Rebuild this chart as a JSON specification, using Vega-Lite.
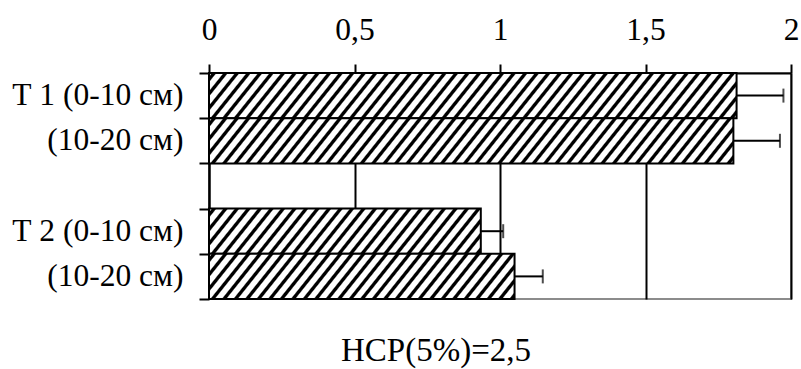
{
  "$schema": "https://vega.github.io/schema/vega-lite/v6.json",
  "width": 582,
  "height": 226,
  "autosize": {"type": "none"},
  "padding": {"left": 209, "top": 73, "right": 10, "bottom": 70},
  "background": "white",
  "config": {"font": "Liberation Serif", "view": {"stroke": "#8c8c8c", "strokeWidth": 2}},
  "title": {"text": "НСР(5%)=2,5", "orient": "bottom", "anchor": "middle", "fontSize": 33, "fontWeight": "normal", "color": "black", "offset": 35, "dx": -64},
  "data": {"values": [
    {"cat": "a", "mean": 1.813, "hi": 1.974},
    {"cat": "b", "mean": 1.802, "hi": 1.962},
    {"cat": "d", "mean": 0.934, "hi": 1.011},
    {"cat": "e", "mean": 1.05, "hi": 1.147}
  ]},
  "encoding": {
    "y": {"field": "cat", "type": "nominal",
      "scale": {"domain": ["a", "b", "c", "d", "e"], "paddingInner": 0, "paddingOuter": 0},
      "axis": {"title": null, "tickBand": "extent", "domainColor": "black", "domainWidth": 2, "tickColor": "black", "tickWidth": 2, "tickSize": 10, "labelFontSize": 31.5, "labelColor": "black", "labelPadding": 16, "labelLimit": 400,
        "labelExpr": "datum.value == 'a' ? 'Т 1 (0-10 см)' : datum.value == 'd' ? 'Т 2 (0-10 см)' : (datum.value == 'b' || datum.value == 'e') ? '(10-20 см)' : ''"}
    }
  },
  "layer": [
    {
      "mark": {"type": "rule", "color": "black", "strokeWidth": 2},
      "encoding": {
        "x": {"field": "mean", "type": "quantitative", "scale": {"domain": [0, 2]},
          "axis": {"orient": "top", "title": null, "values": [0, 0.5, 1, 1.5, 2], "labelExpr": "replace(toString(datum.value), '.', ',')", "labelFlush": false, "labelOverlap": false,
            "domainColor": "black", "domainWidth": 2, "tickColor": "black", "tickWidth": 2, "tickSize": 9,
            "labelFontSize": 31.5, "labelColor": "black", "labelPadding": 25, "labelBaseline": "alphabetic",
            "grid": true, "gridWidth": 2, "gridOpacity": 1, "gridColor": "black"}},
        "x2": {"field": "hi"}
      }
    },
    {
      "mark": {"type": "tick", "color": "black", "thickness": 2, "size": 14},
      "encoding": {"x": {"field": "hi", "type": "quantitative"}}
    },
    {
      "transform": [{"filter": "datum.cat == 'a' || datum.cat == 'b'"}],
      "mark": {"type": "bar", "stroke": "black", "strokeWidth": 2,
        "fill": {"gradient": "linear", "x1": 0, "y1": 0, "x2": 1.088, "y2": 0.0748, "stops": [
{"offset":0.004,"color":"#fff"},{"offset":0.0065,"color":"#000"},{"offset":0.0115,"color":"#000"},{"offset":0.014,"color":"#fff"},
{"offset":0.024,"color":"#fff"},{"offset":0.0265,"color":"#000"},{"offset":0.0315,"color":"#000"},{"offset":0.034,"color":"#fff"},
{"offset":0.044,"color":"#fff"},{"offset":0.0465,"color":"#000"},{"offset":0.0515,"color":"#000"},{"offset":0.054,"color":"#fff"},
{"offset":0.064,"color":"#fff"},{"offset":0.0665,"color":"#000"},{"offset":0.0715,"color":"#000"},{"offset":0.074,"color":"#fff"},
{"offset":0.084,"color":"#fff"},{"offset":0.0865,"color":"#000"},{"offset":0.0915,"color":"#000"},{"offset":0.094,"color":"#fff"},
{"offset":0.104,"color":"#fff"},{"offset":0.1065,"color":"#000"},{"offset":0.1115,"color":"#000"},{"offset":0.114,"color":"#fff"},
{"offset":0.124,"color":"#fff"},{"offset":0.1265,"color":"#000"},{"offset":0.1315,"color":"#000"},{"offset":0.134,"color":"#fff"},
{"offset":0.144,"color":"#fff"},{"offset":0.1465,"color":"#000"},{"offset":0.1515,"color":"#000"},{"offset":0.154,"color":"#fff"},
{"offset":0.164,"color":"#fff"},{"offset":0.1665,"color":"#000"},{"offset":0.1715,"color":"#000"},{"offset":0.174,"color":"#fff"},
{"offset":0.184,"color":"#fff"},{"offset":0.1865,"color":"#000"},{"offset":0.1915,"color":"#000"},{"offset":0.194,"color":"#fff"},
{"offset":0.204,"color":"#fff"},{"offset":0.2065,"color":"#000"},{"offset":0.2115,"color":"#000"},{"offset":0.214,"color":"#fff"},
{"offset":0.224,"color":"#fff"},{"offset":0.2265,"color":"#000"},{"offset":0.2315,"color":"#000"},{"offset":0.234,"color":"#fff"},
{"offset":0.244,"color":"#fff"},{"offset":0.2465,"color":"#000"},{"offset":0.2515,"color":"#000"},{"offset":0.254,"color":"#fff"},
{"offset":0.264,"color":"#fff"},{"offset":0.2665,"color":"#000"},{"offset":0.2715,"color":"#000"},{"offset":0.274,"color":"#fff"},
{"offset":0.284,"color":"#fff"},{"offset":0.2865,"color":"#000"},{"offset":0.2915,"color":"#000"},{"offset":0.294,"color":"#fff"},
{"offset":0.304,"color":"#fff"},{"offset":0.3065,"color":"#000"},{"offset":0.3115,"color":"#000"},{"offset":0.314,"color":"#fff"},
{"offset":0.324,"color":"#fff"},{"offset":0.3265,"color":"#000"},{"offset":0.3315,"color":"#000"},{"offset":0.334,"color":"#fff"},
{"offset":0.344,"color":"#fff"},{"offset":0.3465,"color":"#000"},{"offset":0.3515,"color":"#000"},{"offset":0.354,"color":"#fff"},
{"offset":0.364,"color":"#fff"},{"offset":0.3665,"color":"#000"},{"offset":0.3715,"color":"#000"},{"offset":0.374,"color":"#fff"},
{"offset":0.384,"color":"#fff"},{"offset":0.3865,"color":"#000"},{"offset":0.3915,"color":"#000"},{"offset":0.394,"color":"#fff"},
{"offset":0.404,"color":"#fff"},{"offset":0.4065,"color":"#000"},{"offset":0.4115,"color":"#000"},{"offset":0.414,"color":"#fff"},
{"offset":0.424,"color":"#fff"},{"offset":0.4265,"color":"#000"},{"offset":0.4315,"color":"#000"},{"offset":0.434,"color":"#fff"},
{"offset":0.444,"color":"#fff"},{"offset":0.4465,"color":"#000"},{"offset":0.4515,"color":"#000"},{"offset":0.454,"color":"#fff"},
{"offset":0.464,"color":"#fff"},{"offset":0.4665,"color":"#000"},{"offset":0.4715,"color":"#000"},{"offset":0.474,"color":"#fff"},
{"offset":0.484,"color":"#fff"},{"offset":0.4865,"color":"#000"},{"offset":0.4915,"color":"#000"},{"offset":0.494,"color":"#fff"},
{"offset":0.504,"color":"#fff"},{"offset":0.5065,"color":"#000"},{"offset":0.5115,"color":"#000"},{"offset":0.514,"color":"#fff"},
{"offset":0.524,"color":"#fff"},{"offset":0.5265,"color":"#000"},{"offset":0.5315,"color":"#000"},{"offset":0.534,"color":"#fff"},
{"offset":0.544,"color":"#fff"},{"offset":0.5465,"color":"#000"},{"offset":0.5515,"color":"#000"},{"offset":0.554,"color":"#fff"},
{"offset":0.564,"color":"#fff"},{"offset":0.5665,"color":"#000"},{"offset":0.5715,"color":"#000"},{"offset":0.574,"color":"#fff"},
{"offset":0.584,"color":"#fff"},{"offset":0.5865,"color":"#000"},{"offset":0.5915,"color":"#000"},{"offset":0.594,"color":"#fff"},
{"offset":0.604,"color":"#fff"},{"offset":0.6065,"color":"#000"},{"offset":0.6115,"color":"#000"},{"offset":0.614,"color":"#fff"},
{"offset":0.624,"color":"#fff"},{"offset":0.6265,"color":"#000"},{"offset":0.6315,"color":"#000"},{"offset":0.634,"color":"#fff"},
{"offset":0.644,"color":"#fff"},{"offset":0.6465,"color":"#000"},{"offset":0.6515,"color":"#000"},{"offset":0.654,"color":"#fff"},
{"offset":0.664,"color":"#fff"},{"offset":0.6665,"color":"#000"},{"offset":0.6715,"color":"#000"},{"offset":0.674,"color":"#fff"},
{"offset":0.684,"color":"#fff"},{"offset":0.6865,"color":"#000"},{"offset":0.6915,"color":"#000"},{"offset":0.694,"color":"#fff"},
{"offset":0.704,"color":"#fff"},{"offset":0.7065,"color":"#000"},{"offset":0.7115,"color":"#000"},{"offset":0.714,"color":"#fff"},
{"offset":0.724,"color":"#fff"},{"offset":0.7265,"color":"#000"},{"offset":0.7315,"color":"#000"},{"offset":0.734,"color":"#fff"},
{"offset":0.744,"color":"#fff"},{"offset":0.7465,"color":"#000"},{"offset":0.7515,"color":"#000"},{"offset":0.754,"color":"#fff"},
{"offset":0.764,"color":"#fff"},{"offset":0.7665,"color":"#000"},{"offset":0.7715,"color":"#000"},{"offset":0.774,"color":"#fff"},
{"offset":0.784,"color":"#fff"},{"offset":0.7865,"color":"#000"},{"offset":0.7915,"color":"#000"},{"offset":0.794,"color":"#fff"},
{"offset":0.804,"color":"#fff"},{"offset":0.8065,"color":"#000"},{"offset":0.8115,"color":"#000"},{"offset":0.814,"color":"#fff"},
{"offset":0.824,"color":"#fff"},{"offset":0.8265,"color":"#000"},{"offset":0.8315,"color":"#000"},{"offset":0.834,"color":"#fff"},
{"offset":0.844,"color":"#fff"},{"offset":0.8465,"color":"#000"},{"offset":0.8515,"color":"#000"},{"offset":0.854,"color":"#fff"},
{"offset":0.864,"color":"#fff"},{"offset":0.8665,"color":"#000"},{"offset":0.8715,"color":"#000"},{"offset":0.874,"color":"#fff"},
{"offset":0.884,"color":"#fff"},{"offset":0.8865,"color":"#000"},{"offset":0.8915,"color":"#000"},{"offset":0.894,"color":"#fff"},
{"offset":0.904,"color":"#fff"},{"offset":0.9065,"color":"#000"},{"offset":0.9115,"color":"#000"},{"offset":0.914,"color":"#fff"},
{"offset":0.924,"color":"#fff"},{"offset":0.9265,"color":"#000"},{"offset":0.9315,"color":"#000"},{"offset":0.934,"color":"#fff"},
{"offset":0.944,"color":"#fff"},{"offset":0.9465,"color":"#000"},{"offset":0.9515,"color":"#000"},{"offset":0.954,"color":"#fff"},
{"offset":0.964,"color":"#fff"},{"offset":0.9665,"color":"#000"},{"offset":0.9715,"color":"#000"},{"offset":0.974,"color":"#fff"},
{"offset":0.984,"color":"#fff"},{"offset":0.9865,"color":"#000"},{"offset":0.9915,"color":"#000"},{"offset":0.994,"color":"#fff"}
        ]}},
      "encoding": {"x": {"field": "mean", "type": "quantitative"}}
    },
    {
      "transform": [{"filter": "datum.cat == 'd'"}],
      "mark": {"type": "bar", "stroke": "black", "strokeWidth": 2,
        "fill": {"gradient": "linear", "x1": 0, "y1": 0, "x2": 2.0795, "y2": 0.2768, "stops": [
{"offset":0.004,"color":"#fff"},{"offset":0.0065,"color":"#000"},{"offset":0.0115,"color":"#000"},{"offset":0.014,"color":"#fff"},
{"offset":0.024,"color":"#fff"},{"offset":0.0265,"color":"#000"},{"offset":0.0315,"color":"#000"},{"offset":0.034,"color":"#fff"},
{"offset":0.044,"color":"#fff"},{"offset":0.0465,"color":"#000"},{"offset":0.0515,"color":"#000"},{"offset":0.054,"color":"#fff"},
{"offset":0.064,"color":"#fff"},{"offset":0.0665,"color":"#000"},{"offset":0.0715,"color":"#000"},{"offset":0.074,"color":"#fff"},
{"offset":0.084,"color":"#fff"},{"offset":0.0865,"color":"#000"},{"offset":0.0915,"color":"#000"},{"offset":0.094,"color":"#fff"},
{"offset":0.104,"color":"#fff"},{"offset":0.1065,"color":"#000"},{"offset":0.1115,"color":"#000"},{"offset":0.114,"color":"#fff"},
{"offset":0.124,"color":"#fff"},{"offset":0.1265,"color":"#000"},{"offset":0.1315,"color":"#000"},{"offset":0.134,"color":"#fff"},
{"offset":0.144,"color":"#fff"},{"offset":0.1465,"color":"#000"},{"offset":0.1515,"color":"#000"},{"offset":0.154,"color":"#fff"},
{"offset":0.164,"color":"#fff"},{"offset":0.1665,"color":"#000"},{"offset":0.1715,"color":"#000"},{"offset":0.174,"color":"#fff"},
{"offset":0.184,"color":"#fff"},{"offset":0.1865,"color":"#000"},{"offset":0.1915,"color":"#000"},{"offset":0.194,"color":"#fff"},
{"offset":0.204,"color":"#fff"},{"offset":0.2065,"color":"#000"},{"offset":0.2115,"color":"#000"},{"offset":0.214,"color":"#fff"},
{"offset":0.224,"color":"#fff"},{"offset":0.2265,"color":"#000"},{"offset":0.2315,"color":"#000"},{"offset":0.234,"color":"#fff"},
{"offset":0.244,"color":"#fff"},{"offset":0.2465,"color":"#000"},{"offset":0.2515,"color":"#000"},{"offset":0.254,"color":"#fff"},
{"offset":0.264,"color":"#fff"},{"offset":0.2665,"color":"#000"},{"offset":0.2715,"color":"#000"},{"offset":0.274,"color":"#fff"},
{"offset":0.284,"color":"#fff"},{"offset":0.2865,"color":"#000"},{"offset":0.2915,"color":"#000"},{"offset":0.294,"color":"#fff"},
{"offset":0.304,"color":"#fff"},{"offset":0.3065,"color":"#000"},{"offset":0.3115,"color":"#000"},{"offset":0.314,"color":"#fff"},
{"offset":0.324,"color":"#fff"},{"offset":0.3265,"color":"#000"},{"offset":0.3315,"color":"#000"},{"offset":0.334,"color":"#fff"},
{"offset":0.344,"color":"#fff"},{"offset":0.3465,"color":"#000"},{"offset":0.3515,"color":"#000"},{"offset":0.354,"color":"#fff"},
{"offset":0.364,"color":"#fff"},{"offset":0.3665,"color":"#000"},{"offset":0.3715,"color":"#000"},{"offset":0.374,"color":"#fff"},
{"offset":0.384,"color":"#fff"},{"offset":0.3865,"color":"#000"},{"offset":0.3915,"color":"#000"},{"offset":0.394,"color":"#fff"},
{"offset":0.404,"color":"#fff"},{"offset":0.4065,"color":"#000"},{"offset":0.4115,"color":"#000"},{"offset":0.414,"color":"#fff"},
{"offset":0.424,"color":"#fff"},{"offset":0.4265,"color":"#000"},{"offset":0.4315,"color":"#000"},{"offset":0.434,"color":"#fff"},
{"offset":0.444,"color":"#fff"},{"offset":0.4465,"color":"#000"},{"offset":0.4515,"color":"#000"},{"offset":0.454,"color":"#fff"},
{"offset":0.464,"color":"#fff"},{"offset":0.4665,"color":"#000"},{"offset":0.4715,"color":"#000"},{"offset":0.474,"color":"#fff"},
{"offset":0.484,"color":"#fff"},{"offset":0.4865,"color":"#000"},{"offset":0.4915,"color":"#000"},{"offset":0.494,"color":"#fff"},
{"offset":0.504,"color":"#fff"},{"offset":0.5065,"color":"#000"},{"offset":0.5115,"color":"#000"},{"offset":0.514,"color":"#fff"},
{"offset":0.524,"color":"#fff"},{"offset":0.5265,"color":"#000"},{"offset":0.5315,"color":"#000"},{"offset":0.534,"color":"#fff"}
        ]}},
      "encoding": {"x": {"field": "mean", "type": "quantitative"}}
    },
    {
      "transform": [{"filter": "datum.cat == 'e'"}],
      "mark": {"type": "bar", "stroke": "black", "strokeWidth": 2,
        "fill": {"gradient": "linear", "x1": 0, "y1": 0, "x2": 1.855, "y2": 0.2194, "stops": [
{"offset":0.004,"color":"#fff"},{"offset":0.0065,"color":"#000"},{"offset":0.0115,"color":"#000"},{"offset":0.014,"color":"#fff"},
{"offset":0.024,"color":"#fff"},{"offset":0.0265,"color":"#000"},{"offset":0.0315,"color":"#000"},{"offset":0.034,"color":"#fff"},
{"offset":0.044,"color":"#fff"},{"offset":0.0465,"color":"#000"},{"offset":0.0515,"color":"#000"},{"offset":0.054,"color":"#fff"},
{"offset":0.064,"color":"#fff"},{"offset":0.0665,"color":"#000"},{"offset":0.0715,"color":"#000"},{"offset":0.074,"color":"#fff"},
{"offset":0.084,"color":"#fff"},{"offset":0.0865,"color":"#000"},{"offset":0.0915,"color":"#000"},{"offset":0.094,"color":"#fff"},
{"offset":0.104,"color":"#fff"},{"offset":0.1065,"color":"#000"},{"offset":0.1115,"color":"#000"},{"offset":0.114,"color":"#fff"},
{"offset":0.124,"color":"#fff"},{"offset":0.1265,"color":"#000"},{"offset":0.1315,"color":"#000"},{"offset":0.134,"color":"#fff"},
{"offset":0.144,"color":"#fff"},{"offset":0.1465,"color":"#000"},{"offset":0.1515,"color":"#000"},{"offset":0.154,"color":"#fff"},
{"offset":0.164,"color":"#fff"},{"offset":0.1665,"color":"#000"},{"offset":0.1715,"color":"#000"},{"offset":0.174,"color":"#fff"},
{"offset":0.184,"color":"#fff"},{"offset":0.1865,"color":"#000"},{"offset":0.1915,"color":"#000"},{"offset":0.194,"color":"#fff"},
{"offset":0.204,"color":"#fff"},{"offset":0.2065,"color":"#000"},{"offset":0.2115,"color":"#000"},{"offset":0.214,"color":"#fff"},
{"offset":0.224,"color":"#fff"},{"offset":0.2265,"color":"#000"},{"offset":0.2315,"color":"#000"},{"offset":0.234,"color":"#fff"},
{"offset":0.244,"color":"#fff"},{"offset":0.2465,"color":"#000"},{"offset":0.2515,"color":"#000"},{"offset":0.254,"color":"#fff"},
{"offset":0.264,"color":"#fff"},{"offset":0.2665,"color":"#000"},{"offset":0.2715,"color":"#000"},{"offset":0.274,"color":"#fff"},
{"offset":0.284,"color":"#fff"},{"offset":0.2865,"color":"#000"},{"offset":0.2915,"color":"#000"},{"offset":0.294,"color":"#fff"},
{"offset":0.304,"color":"#fff"},{"offset":0.3065,"color":"#000"},{"offset":0.3115,"color":"#000"},{"offset":0.314,"color":"#fff"},
{"offset":0.324,"color":"#fff"},{"offset":0.3265,"color":"#000"},{"offset":0.3315,"color":"#000"},{"offset":0.334,"color":"#fff"},
{"offset":0.344,"color":"#fff"},{"offset":0.3465,"color":"#000"},{"offset":0.3515,"color":"#000"},{"offset":0.354,"color":"#fff"},
{"offset":0.364,"color":"#fff"},{"offset":0.3665,"color":"#000"},{"offset":0.3715,"color":"#000"},{"offset":0.374,"color":"#fff"},
{"offset":0.384,"color":"#fff"},{"offset":0.3865,"color":"#000"},{"offset":0.3915,"color":"#000"},{"offset":0.394,"color":"#fff"},
{"offset":0.404,"color":"#fff"},{"offset":0.4065,"color":"#000"},{"offset":0.4115,"color":"#000"},{"offset":0.414,"color":"#fff"},
{"offset":0.424,"color":"#fff"},{"offset":0.4265,"color":"#000"},{"offset":0.4315,"color":"#000"},{"offset":0.434,"color":"#fff"},
{"offset":0.444,"color":"#fff"},{"offset":0.4465,"color":"#000"},{"offset":0.4515,"color":"#000"},{"offset":0.454,"color":"#fff"},
{"offset":0.464,"color":"#fff"},{"offset":0.4665,"color":"#000"},{"offset":0.4715,"color":"#000"},{"offset":0.474,"color":"#fff"},
{"offset":0.484,"color":"#fff"},{"offset":0.4865,"color":"#000"},{"offset":0.4915,"color":"#000"},{"offset":0.494,"color":"#fff"},
{"offset":0.504,"color":"#fff"},{"offset":0.5065,"color":"#000"},{"offset":0.5115,"color":"#000"},{"offset":0.514,"color":"#fff"},
{"offset":0.524,"color":"#fff"},{"offset":0.5265,"color":"#000"},{"offset":0.5315,"color":"#000"},{"offset":0.534,"color":"#fff"},
{"offset":0.544,"color":"#fff"},{"offset":0.5465,"color":"#000"},{"offset":0.5515,"color":"#000"},{"offset":0.554,"color":"#fff"},
{"offset":0.564,"color":"#fff"},{"offset":0.5665,"color":"#000"},{"offset":0.5715,"color":"#000"},{"offset":0.574,"color":"#fff"},
{"offset":0.584,"color":"#fff"},{"offset":0.5865,"color":"#000"},{"offset":0.5915,"color":"#000"},{"offset":0.594,"color":"#fff"}
        ]}},
      "encoding": {"x": {"field": "mean", "type": "quantitative"}}
    }
  ]
}
